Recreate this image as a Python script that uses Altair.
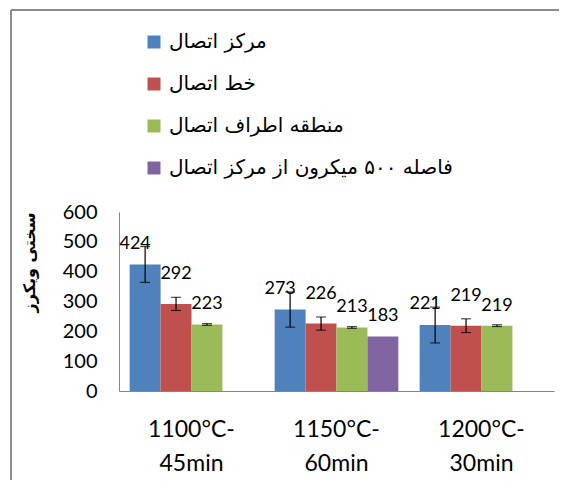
import altair as alt
import pandas as pd

categories = ["1100°C-\n45min", "1150°C-\n60min", "1200°C-\n30min"]
series_names = ["مرکز اتصال", "خط اتصال", "منطقه اطراف اتصال", "فاصله ۵۰۰ میکرون از مرکز اتصال"]
colors = ["#4F81BD", "#C0504D", "#9BBB59", "#8064A2"]

center_vals = [424, 273, 221]
line_vals = [292, 226, 219]
edge_vals = [223, 213, 219]
dist_vals = [None, 183, None]

center_err = [60, 59, 60]
line_err = [22, 22, 23]
edge_err = [3, 3, 3]
dist_err = [None, None, None]

y_ticks = [0, 100, 200, 300, 400, 500, 600]

rows = []
for s, vals, errs in zip(series_names,
                         [center_vals, line_vals, edge_vals, dist_vals],
                         [center_err, line_err, edge_err, dist_err]):
    for c, v, e in zip(categories, vals, errs):
        if v is None:
            continue
        rows.append({"cat": c, "series": s, "value": v,
                     "lo": (v - e) if e is not None else None,
                     "hi": (v + e) if e is not None else None})
df = pd.DataFrame(rows)

x_scale = alt.Scale(domain=categories, paddingInner=0.147, paddingOuter=0.0735)
x_enc = alt.X("cat:N", sort=categories, scale=x_scale,
              axis=alt.Axis(title=None, labelAngle=0, ticks=False, domainColor="#868686",
                            labelExpr="split(datum.label, '\\n')",
                            labelFont="Lato", labelFontSize=23, labelColor="black",
                            labelLineHeight=34, labelPadding=27))
xo_enc = alt.XOffset("series:N", sort=series_names,
                     scale=alt.Scale(domain=series_names, paddingInner=0, paddingOuter=0))
y_scale = alt.Scale(domain=[0, 600], nice=False)
y_axis = alt.Axis(values=y_ticks, grid=False, ticks=False, labelOverlap=False,
                  domainColor="#868686", labelFont="Lato", labelFontSize=20,
                  labelColor="black", labelPadding=22,
                  title="سختی ویکرز", titleFont="DejaVu Sans", titleFontSize=16,
                  titleFontWeight="bold", titleColor="black",
                  titleX=-90, titleY=50, titleBaseline="middle", titleAlign="center")

base = alt.Chart(df)

bars = base.mark_bar().encode(
    x=x_enc, xOffset=xo_enc,
    y=alt.Y("value:Q", scale=y_scale, axis=y_axis),
    color=alt.Color("series:N", scale=alt.Scale(domain=series_names, range=colors),
                    legend=alt.Legend(title=None, orient="none", legendX=25, legendY=-180,
                                      padding=0,
                                      direction="vertical", symbolType="square",
                                      symbolSize=169, symbolStrokeWidth=0,
                                      labelFont="DejaVu Sans", labelFontSize=20,
                                      labelColor="black", labelLimit=500,
                                      rowPadding=22, labelOffset=5))
)

err = base.transform_filter("isValid(datum.lo)")
err_rule = err.mark_rule(color="black", strokeWidth=1.2).encode(
    x=x_enc, xOffset=xo_enc, y=alt.Y("lo:Q", scale=y_scale, axis=y_axis), y2="hi:Q")
err_lo = err.mark_tick(color="black", size=10, thickness=1.2).encode(
    x=x_enc, xOffset=xo_enc, y=alt.Y("lo:Q", scale=y_scale, axis=y_axis))
err_hi = err.mark_tick(color="black", size=10, thickness=1.2).encode(
    x=x_enc, xOffset=xo_enc, y=alt.Y("hi:Q", scale=y_scale, axis=y_axis))

def labels(name, dx, dy):
    return base.transform_filter(alt.datum.series == name).mark_text(
        font="Lato", fontSize=18, color="black", baseline="middle", dx=dx, dy=dy
    ).encode(x=x_enc, xOffset=xo_enc, y=alt.Y("value:Q", scale=y_scale, axis=y_axis),
             text="value:Q")

lab_center = labels(series_names[0], -10, -21)
lab_line = labels(series_names[1], 0, -30)
lab_edge = labels(series_names[2], 0, -20)
lab_dist = labels(series_names[3], 0, -20)

frame_df = pd.DataFrame({"a": [0]})
frame_top = alt.Chart(frame_df).mark_rule(color="#8c8c8c", strokeWidth=2).encode(
    x=alt.value(-108), x2=alt.value(445), y=alt.value(-202))
frame_left = alt.Chart(frame_df).mark_rule(color="#8c8c8c", strokeWidth=2).encode(
    x=alt.value(-108), y=alt.value(-202), y2=alt.value(270))

chart = alt.layer(bars, err_rule, err_lo, err_hi, lab_center, lab_line, lab_edge, lab_dist,
                  frame_top, frame_left).properties(
    width=435, height=179,
    autosize=alt.AutoSizeParams(type="none"),
    padding={"left": 111, "top": 204, "right": 5, "bottom": 89},
).configure_view(stroke=None).configure_axisY(labelOverlap=False)

chart.save("out.html", embed_options={"renderer": "svg", "actions": False})
